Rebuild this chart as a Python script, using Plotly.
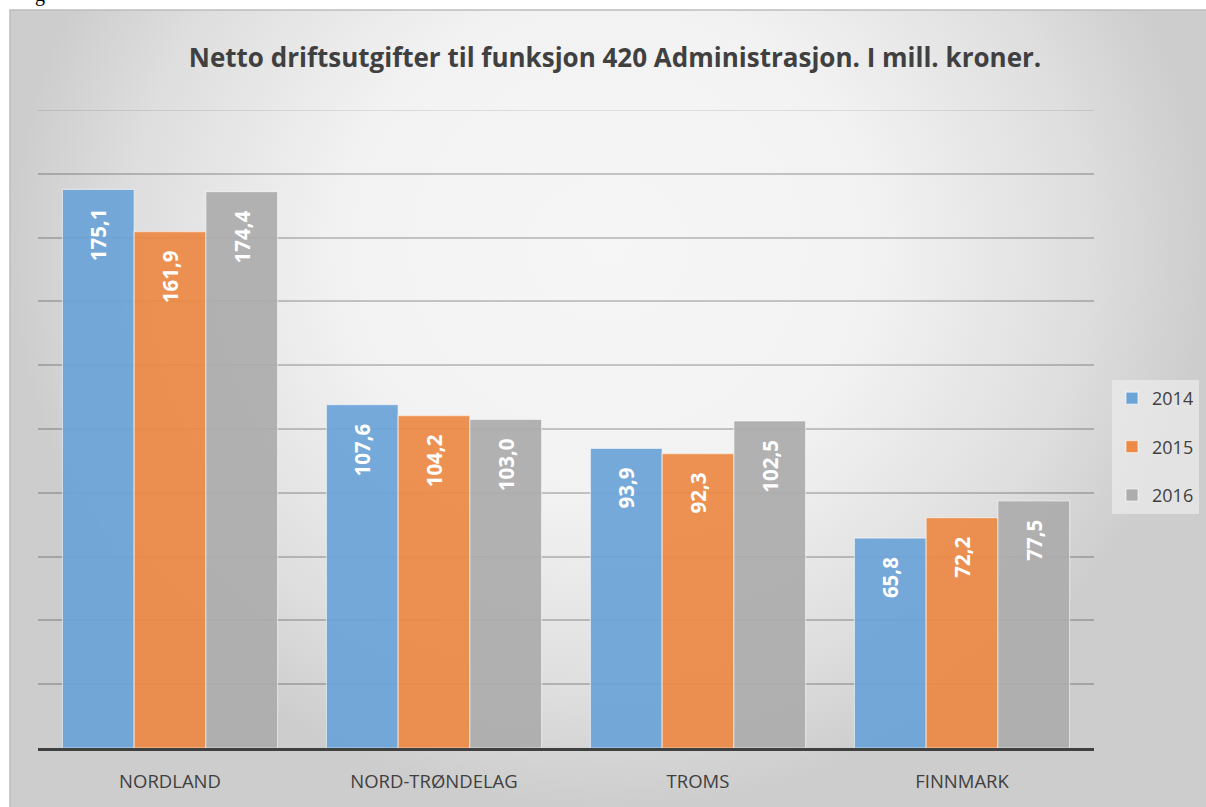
import plotly.graph_objects as go

fylker = ['NORDLAND', 'NORD-TRØNDELAG', 'TROMS', 'FINNMARK']
aar = ['2014', '2015', '2016']
utg_2014 = [175.1, 107.6, 93.9, 65.8]
utg_2015 = [161.9, 104.2, 92.3, 72.2]
utg_2016 = [174.4, 103.0, 102.5, 77.5]
farger = ['#6ca4d8', '#ec8a46', '#adadad']

W, H = 1206, 807


def px_x(p):
    return p / W


def px_y(p):
    return 1 - p / H


fig = go.Figure()

# gradient background of the chart frame (own hidden axes, drawn first)
fig.add_trace(go.Scatter(x=[0, 1, 1, 0, 0], y=[0, 0, 1.4, 1.4, 0], mode='lines', fill='toself',
                         line=dict(width=0), hoverinfo='skip', showlegend=False,
                         fillgradient=dict(type='radial',
                                           colorscale=[[0, '#f6f6f6'], [0.45, '#f2f2f2'],
                                                       [0.8, '#dedede'], [1, '#cdcdcd']]),
                         xaxis='x', yaxis='y'))

for navn, verdier, farge in zip(aar, [utg_2014, utg_2015, utg_2016], farger):
    fig.add_trace(go.Bar(x=fylker, y=verdier, name=navn, legendgroup=navn,
                         marker=dict(color=farge, opacity=0.93, line=dict(color='rgba(255,255,255,0.55)', width=1.2)),
                         text=[f'{v:.1f}'.replace('.', ',') + '\u00a0\u00a0\u00a0' for v in verdier],
                         textposition='inside', insidetextanchor='end', textangle=-90,
                         textfont=dict(family='Open Sans', size=20.5, color='white', weight='bold'),
                         xaxis='x2', yaxis='y2'))

fig.update_layout(
    width=W, height=H,
    margin=dict(l=0, r=0, t=0, b=0),
    paper_bgcolor='white', plot_bgcolor='rgba(0,0,0,0)',
    barmode='group', bargap=0.185, bargroupgap=0,
    title=dict(text='<b>Netto driftsutgifter til funksjon 420 Administrasjon. I mill. kroner.</b>',
               x=px_x(615), xanchor='center', y=px_y(58), yanchor='middle',
               font=dict(family='Open Sans', size=26, color='#404040')),
    xaxis=dict(domain=[px_x(10), 1], range=[0, 1], visible=False, fixedrange=True),
    yaxis=dict(domain=[0, px_y(10)], range=[0, 1], visible=False, fixedrange=True),
    xaxis2=dict(domain=[px_x(38), px_x(1094)], anchor='y2', showgrid=False,
                showline=True, linecolor='#404040', linewidth=3, ticks='', ticklabelstandoff=15,
                tickfont=dict(family='Open Sans', size=18.5, color='#404040')),
    yaxis2=dict(domain=[1 - 748 / H, px_y(110)], anchor='x2', range=[0, 200], dtick=20,
                showticklabels=False, showgrid=True, gridcolor='rgba(0,0,0,0.2)', gridwidth=1.5,
                zeroline=False),
    legend=dict(x=px_x(1112), xanchor='left', y=px_y(447), yanchor='middle',
                bgcolor='rgba(236,236,236,0.7)', tracegroupgap=22,
                font=dict(family='Open Sans', size=18, color='#404040')),
    showlegend=True,
)

# top gridline at 200 (plotly drops the one on the range edge)
fig.add_shape(type='line', xref='x2 domain', yref='y2', x0=0, x1=1, y0=200, y1=200,
              line=dict(color='rgba(0,0,0,0.13)', width=1.5))

# frame border
fig.add_shape(type='rect', xref='paper', yref='paper', x0=px_x(10), x1=1.01, y0=-0.01, y1=px_y(10),
              line=dict(color='#bdbdbd', width=1.5), fillcolor='rgba(0,0,0,0)')

# cut-off caption letter above the frame
fig.add_annotation(text='g', xref='paper', yref='paper', x=px_x(40), y=1, xanchor='center', yanchor='bottom',
                   yshift=-8, showarrow=False, font=dict(family='Liberation Serif', size=20, color='black'))

fig.write_html('out.html', config={'displayModeBar': False},
               post_script="document.body.style.margin='0';")
